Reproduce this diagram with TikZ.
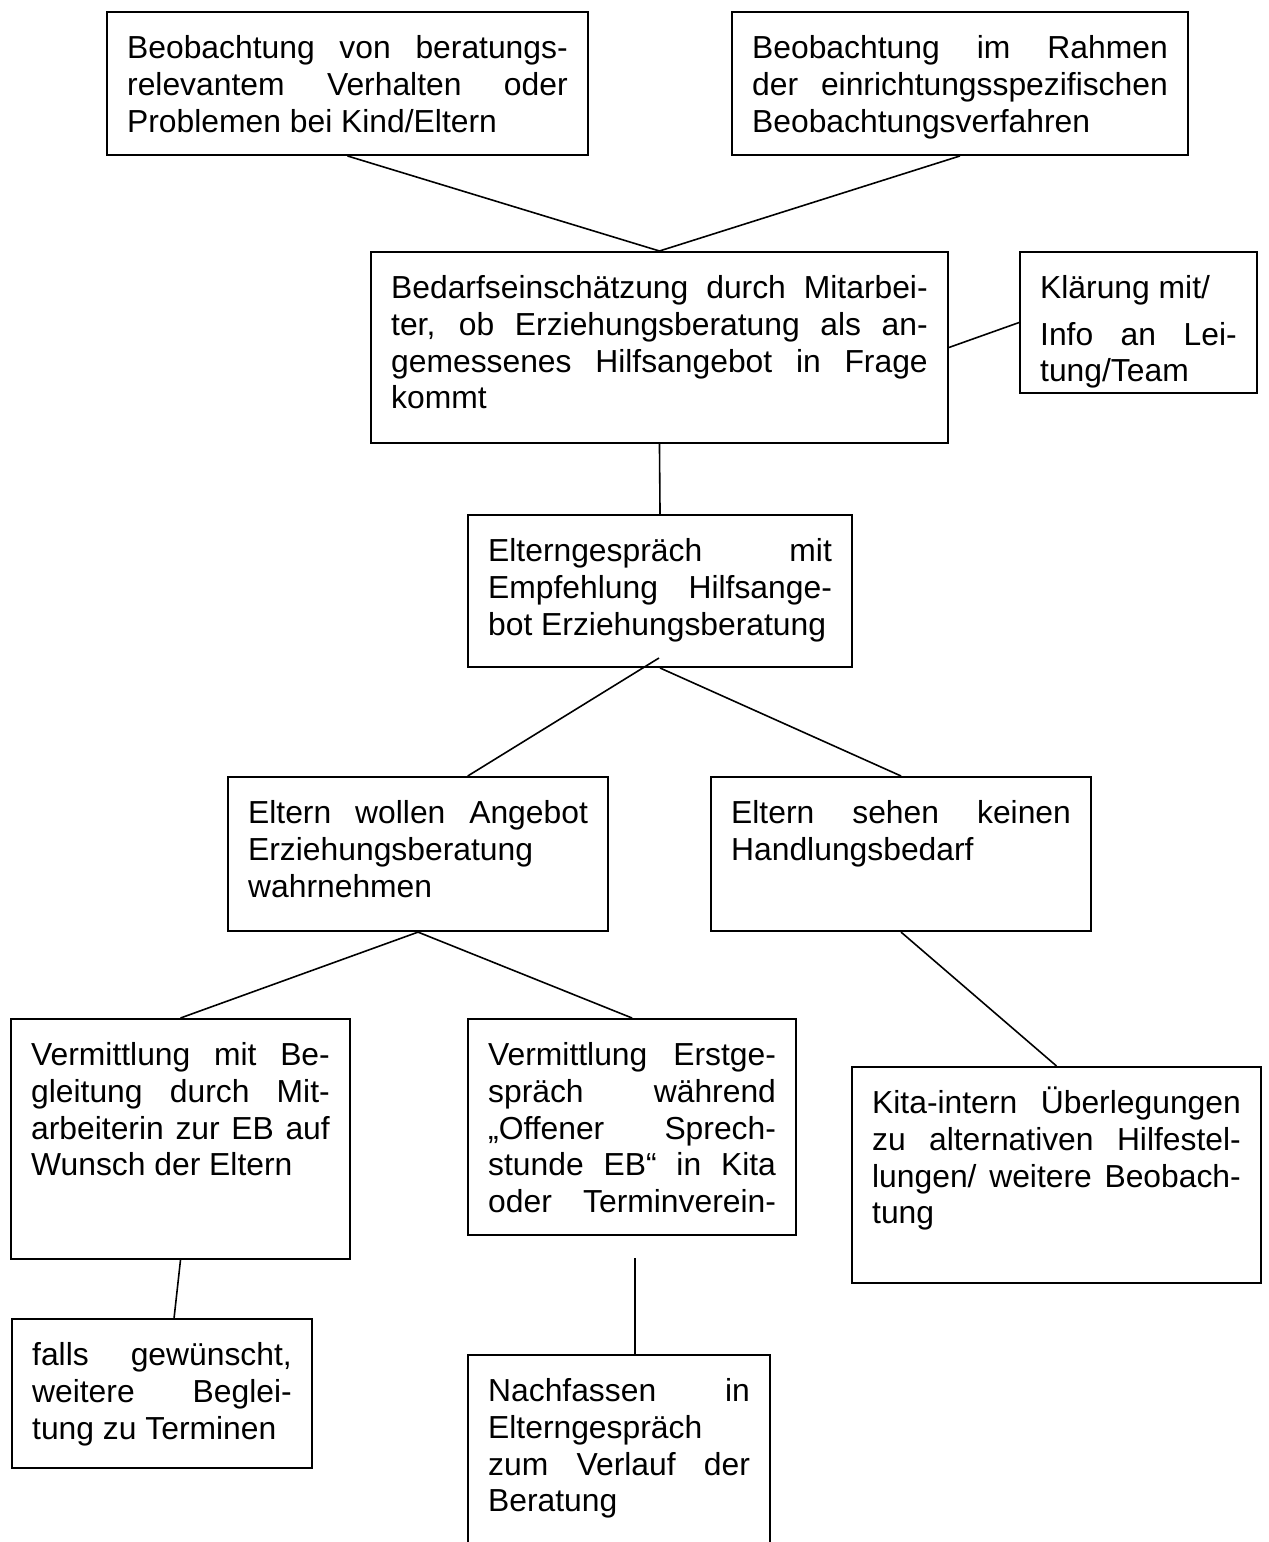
\documentclass[tikz,border=0pt]{standalone}
\usepackage{fontspec}
\setmainfont{Liberation Sans}
\usetikzlibrary{calc}
\tolerance=10000
\hbadness=10000
\hyphenpenalty=10000
\exhyphenpenalty=10000

\begin{document}
\begin{tikzpicture}[x=0.377pt, y=-0.377pt,
  box/.style={draw, line width=0.75pt, anchor=north west, align=justify,
    inner xsep=7.6pt, inner ysep=3.7pt, text height=14pt,
    font=\fontsize{12pt}{13.8pt}\selectfont},
  link/.style={line width=0.6pt}]

\useasboundingbox (0,0) rectangle (1268,1542);

% Beobachtung
\node[box, text width=166.1pt, text depth=32.5pt] (nA) at (106,11)
  {Beobachtung von beratungs-\linebreak relevantem Verhalten oder\linebreak Problemen bei Kind/Eltern};
\node[box, text width=156.7pt, text depth=32.5pt] (nB) at (731,11)
  {Beobachtung im Rahmen\linebreak der einrichtungsspezifischen\linebreak Beobachtungsverfahren};

% Bedarf
\node[box, text width=202.3pt, text depth=50.6pt] (nC) at (370,251)
  {Bedarfseinschätzung durch Mitarbei-\linebreak ter, ob Erziehungsberatung als an-\linebreak gemessenes Hilfsangebot in Frage\linebreak kommt};
\node[box, text width=74.1pt, text depth=31.8pt] (nD) at (1019,251)
  {Klärung mit/\\[3.6pt] Info an Lei-\linebreak tung/Team};

% Elterngespraech
\node[box, text width=129.6pt, text depth=35.9pt] (nE) at (467,514)
  {Elterngespräch mit\linebreak Empfehlung Hilfsange-\linebreak bot Erziehungsberatung};
\node[box, text width=128.1pt, text depth=36.7pt] (nF) at (227,776)
  {Eltern wollen Angebot\linebreak Erziehungsberatung\newline wahrnehmen};
\node[box, text width=128.1pt, text depth=36.7pt] (nG) at (710,776)
  {Eltern sehen keinen\linebreak Handlungsbedarf};

% Vermittlung
\node[box, text width=112.6pt, text depth=69.1pt] (nH) at (10,1018)
  {Vermittlung mit Be-\linebreak gleitung durch Mit-\linebreak arbeiterin zur EB auf\linebreak Wunsch der Eltern};
\node[box, text width=108.5pt, text depth=60.0pt] (nI) at (467,1018)
  {Vermittlung Erstge-\linebreak spräch während\linebreak „Offener Sprech-\linebreak stunde EB“ in Kita\linebreak oder Terminverein-\linebreak};
\node[box, text width=139.0pt, text depth=60.0pt] (nJ) at (851,1066)
  {Kita-intern Überlegungen\linebreak zu alternativen Hilfestel-\linebreak lungen/ weitere Beobach-\linebreak tung};

% Nachlauf
\node[box, text width=97.9pt, text depth=34.8pt] (nK) at (11,1318)
  {falls gewünscht,\linebreak weitere Beglei-\linebreak tung zu Terminen};
\node[box, text width=98.7pt, text depth=72.9pt] (nL) at (467,1354)
  {Nachfassen in\linebreak Elterngespräch\newline zum Verlauf der\linebreak Beratung};

\coordinate (eLow) at (659,658);
\coordinate (iLow) at (635,1258);

\draw[link] (nA.south) -- (nC.north) -- (nB.south);
\draw[link] (nC.east) -- (nD.west);
\draw[link] (nC.south) -- (nE.north);
\draw[link] (eLow) -- ($(nF.north west)!0.63!(nF.north east)$);
\draw[link] (nE.south) -- (nG.north);
\draw[link] (nH.north) -- (nF.south) -- (nI.north);
\draw[link] (nG.south) -- (nJ.north);
\draw[link] (nH.south) -- ($(nK.north west)!0.54!(nK.north east)$);
\draw[link] (iLow) -- (iLow |- nL.north);

\end{tikzpicture}
\end{document}
